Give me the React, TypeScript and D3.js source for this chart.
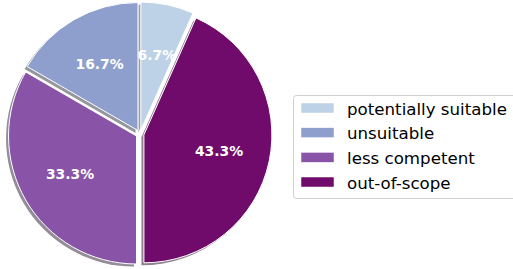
import { useEffect, useRef } from 'react';
import * as d3 from 'd3';

const categories = ['potentially suitable', 'unsuitable', 'less competent', 'out-of-scope'];
const values = [2, 5, 10, 13];
const colors = ['#bdd2e6', '#8e9fcd', '#8954a8', '#700b6b'];

const W = 513;
const H = 269;

export default function App() {
  const svgRef = useRef<SVGSVGElement>(null);

  useEffect(() => {
    document.body.style.margin = '0';
    const svg = d3.select(svgRef.current);
    svg.selectAll('*').remove();

    const cx = 140;
    const cy = 134;
    const r = 128;
    const explode = 4;
    const total = d3.sum(values);
    const start = (values[0] / total) * 2 * Math.PI;

    // counterclockwise, like matplotlib
    const pie = d3.pie<number>().sort(null).value(d => d).startAngle(start).endAngle(start - 2 * Math.PI);
    const arcs = pie(values);
    const arc = d3.arc<d3.PieArcDatum<number>>().innerRadius(0).outerRadius(r);

    const g = svg.append('g').attr('transform', `translate(${cx},${cy})`);

    const offset = (d: d3.PieArcDatum<number>, k: number) => {
      const a = (d.startAngle + d.endAngle) / 2;
      return [Math.sin(a) * k, -Math.cos(a) * k];
    };

    // shadows
    arcs.forEach((d, i) => {
      const [ox, oy] = offset(d, explode);
      const c = d3.rgb(colors[i]);
      g.append('path')
        .attr('d', arc(d))
        .attr('transform', `translate(${ox - 2.5},${oy + 2.5})`)
        .attr('fill', d3.rgb(c.r * 0.3, c.g * 0.3, c.b * 0.3).toString())
        .attr('fill-opacity', 0.5);
    });

    arcs.forEach((d, i) => {
      const [ox, oy] = offset(d, explode);
      g.append('path')
        .attr('d', arc(d))
        .attr('transform', `translate(${ox},${oy})`)
        .attr('fill', colors[i])
        .attr('stroke', '#fff')
        .attr('stroke-width', 1);
    });

    arcs.forEach(d => {
      const [ox, oy] = offset(d, explode + 0.6 * r);
      g.append('text')
        .attr('x', ox)
        .attr('y', oy)
        .attr('text-anchor', 'middle')
        .attr('dy', '0.36em')
        .attr('fill', '#fff')
        .attr('font-family', 'DejaVu Sans')
        .attr('font-weight', 'bold')
        .attr('font-size', 13.9)
        .text(d3.format('.1f')((d.data / total) * 100) + '%');
    });

    // legend
    const lx = 293;
    const ly = 95;
    const rowH = 24.67;
    const leg = svg.append('g');
    leg.append('rect')
      .attr('x', lx + 0.5)
      .attr('y', ly + 0.5)
      .attr('width', 240)
      .attr('height', 103)
      .attr('rx', 3)
      .attr('fill', '#fff')
      .attr('fill-opacity', 0.8)
      .attr('stroke', '#d0d0d0');

    const y = d3.scaleLinear().domain([0, 1]).range([108, 108 + rowH]);
    categories.forEach((c, i) => {
      leg.append('rect')
        .attr('x', 301)
        .attr('y', y(i) - 5)
        .attr('width', 33)
        .attr('height', 10)
        .attr('fill', colors[i])
        .attr('stroke', '#fff')
        .attr('stroke-width', 0.5);
      leg.append('text')
        .attr('x', 347)
        .attr('y', y(i) + 6.5)
        .attr('font-family', 'DejaVu Sans')
        .attr('font-size', 16.67)
        .attr('fill', '#000')
        .text(c);
    });
  }, []);

  return (
    <div style={{ position: 'absolute', left: 0, top: 0 }}>
      <svg ref={svgRef} width={W} height={H} style={{ display: 'block', background: '#fff' }} />
    </div>
  );
}
